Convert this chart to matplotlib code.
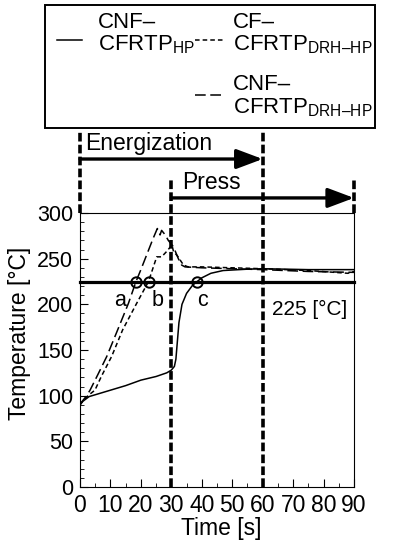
import matplotlib
matplotlib.use('Agg')
import matplotlib.pyplot as plt
from matplotlib.patches import Rectangle
from matplotlib.lines import Line2D
from matplotlib.ticker import MultipleLocator

plt.rcParams['font.family'] = ['Liberation Sans', 'DejaVu Sans']
plt.rcParams['mathtext.fontset'] = 'custom'
plt.rcParams['mathtext.rm'] = 'Liberation Sans'
plt.rcParams['mathtext.it'] = 'Liberation Sans'

# CNF-CFRTP_HP (solid)
t_hp = [0, 1, 3, 5, 10, 15, 20, 25, 28.5, 30, 31, 31.5, 32, 32.5, 33.5, 35, 37, 38.5, 40, 43, 47, 55, 60, 75, 90]
T_hp = [90, 94, 99, 101, 106, 111, 117, 121, 125, 128, 132, 140, 160, 180, 200, 212, 221, 225, 229, 234, 237, 238.5, 239, 238, 238]

# CF-CFRTP_DRH-HP (short dash)
t_cf = [0, 1, 3, 4.9, 7, 10.4, 14, 18.6, 22.5, 24.1, 25.2, 26.8, 28.5, 30.2, 30.7, 32, 34, 35.5, 40, 50, 60, 75, 88, 90]
T_cf = [90, 95, 101, 106, 121, 143, 172, 201, 225, 241, 252, 252, 258, 265, 258, 253, 243, 241, 241, 240, 239, 237, 234, 236]

# CNF-CFRTP_DRH-HP (long dash)
t_cnf = [0, 1, 2, 3.3, 6, 8.8, 12, 15.9, 18.4, 20, 22, 24, 25.4, 26.3, 26.8, 28, 29, 30.7, 32.3, 33.4, 34.5, 40, 50, 60, 75, 90]
T_cnf = [90, 95, 99, 106, 124, 143, 169, 201, 225, 238, 255, 272, 283, 276, 281, 276, 270, 263, 250, 243, 241, 240, 239, 238, 236, 235]

circ_t = [18.4, 22.5, 38.5]
circ_T = [225, 225, 225]
circ_lbl = ['a', 'b', 'c']
lbl_t = [13.2, 25.6, 40.2]
lbl_T = [204, 204, 204]

fig = plt.figure(figsize=(3.96, 5.5), dpi=100)
ax = fig.add_axes([80 / 396, 1 - 487 / 550, 274 / 396, 274 / 550])

ax.plot(t_hp, T_hp, color='black', lw=1.1)
ax.plot(t_cf, T_cf, color='black', lw=1.1, linestyle=(0, (3, 2)))
ax.plot(t_cnf, T_cnf, color='black', lw=1.1, linestyle=(0, (7, 3)))

ax.axhline(225, color='black', lw=2.3, clip_on=False)
ax.plot(circ_t, circ_T, 'o', ms=7.5, mfc='none', mec='black', mew=1.4)
for x, y, s in zip(lbl_t, lbl_T, circ_lbl):
    ax.text(x, y, s, fontsize=15.5, ha='center', va='center')
ax.text(75.4, 194, '225 [°C]', fontsize=15, ha='center', va='center')

ax.set_xlim(0, 90)
ax.set_ylim(0, 300)
ax.xaxis.set_major_locator(MultipleLocator(10))
ax.xaxis.set_minor_locator(MultipleLocator(5))
ax.yaxis.set_major_locator(MultipleLocator(50))
ax.yaxis.set_minor_locator(MultipleLocator(10))
ax.tick_params(which='both', direction='in')
ax.tick_params(axis='x', pad=5, labelsize=16.5)
ax.tick_params(axis='y', pad=5, labelsize=15.5)
ax.tick_params(which='major', length=6)
ax.tick_params(which='minor', length=3)
ax.set_xlabel('Time [s]', fontsize=16.5)
ax.set_ylabel('Temperature [°C]', fontsize=16.5)
ax.xaxis.set_label_coords(0.515, -0.11)
ax.yaxis.set_label_coords(-0.178, 0.562)
for sp in ax.spines.values():
    sp.set_linewidth(0.8)

# process markers above the axes
tr = ax.get_xaxis_transform()
vdash = dict(color='black', lw=2.6, linestyle=(0, (2.4, 0.9)), clip_on=False)
ax.plot([0, 0], [1.0, 1.303], transform=tr, **vdash)
ax.plot([30, 30], [0, 1.12], transform=tr, **vdash)
ax.plot([60, 60], [0, 1.303], transform=tr, **vdash)
ax.plot([90, 90], [1.0, 1.12], transform=tr, **vdash)

arr = dict(arrowstyle='-|>,head_length=0.8,head_width=0.3', mutation_scale=20,
           lw=2.4, color='black', shrinkA=0, shrinkB=0)
ax.annotate('', xy=(60, 1.197), xytext=(0, 1.197), xycoords=tr, textcoords=tr,
            arrowprops=arr, annotation_clip=False)
ax.annotate('', xy=(90, 1.055), xytext=(30, 1.055), xycoords=tr, textcoords=tr,
            arrowprops=arr, annotation_clip=False)
ax.text(1.8, 1.21, 'Energization', transform=tr, fontsize=16.5, va='bottom')
ax.text(33.5, 1.068, 'Press', transform=tr, fontsize=16.5, va='bottom')

# legend box
fig.patches.append(Rectangle((45 / 396, 1 - 128 / 550), 330 / 396, 123 / 550,
                             transform=fig.transFigure, fill=False, lw=1.4,
                             edgecolor='black'))
fig.lines.append(Line2D([57 / 396, 82 / 396], [1 - 40 / 550] * 2,
                        transform=fig.transFigure, color='black', lw=1.1))
fig.lines.append(Line2D([195 / 396, 223 / 396], [1 - 40 / 550] * 2,
                        transform=fig.transFigure, color='black', lw=1.1,
                        linestyle=(0, (3, 2))))
fig.lines.append(Line2D([195 / 396, 222 / 396], [1 - 95 / 550] * 2,
                        transform=fig.transFigure, color='black', lw=1.1,
                        linestyle=(0, (7, 3))))
leg_kw = dict(fontsize=16, va='baseline', ha='left')
fig.text(98 / 396, 1 - 28 / 550, 'CNF–', **leg_kw)
fig.text(98 / 396, 1 - 50 / 550, r'CFRTP$_{\mathrm{HP}}$', **leg_kw)
fig.text(233 / 396, 1 - 28 / 550, 'CF–', **leg_kw)
fig.text(233 / 396, 1 - 50 / 550, r'CFRTP$_{\mathrm{DRH–HP}}$', **leg_kw)
fig.text(233 / 396, 1 - 90 / 550, 'CNF–', **leg_kw)
fig.text(233 / 396, 1 - 113 / 550, r'CFRTP$_{\mathrm{DRH–HP}}$', **leg_kw)

fig.savefig('out.png', dpi=100)
